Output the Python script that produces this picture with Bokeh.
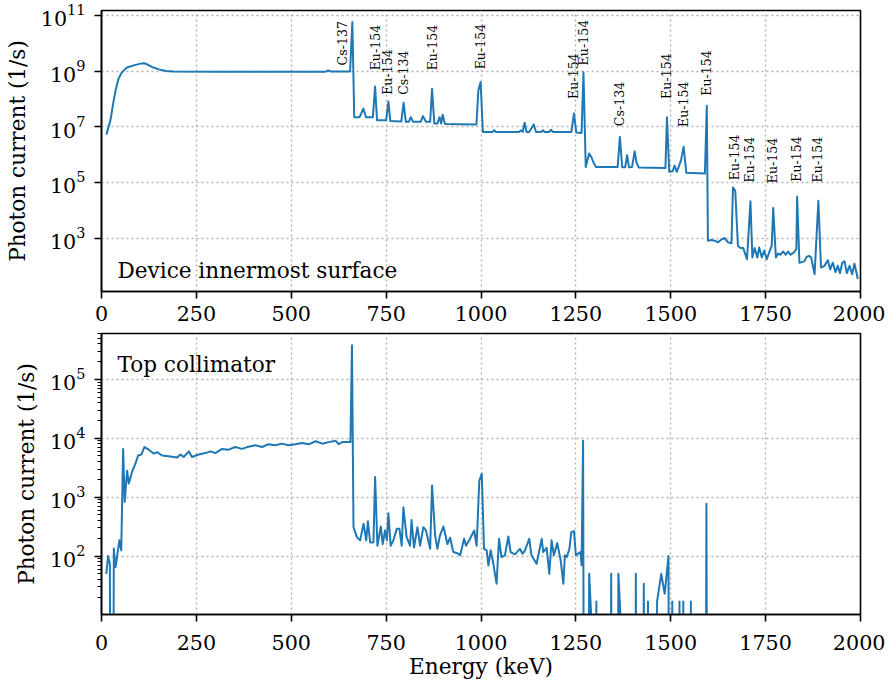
import numpy as np
from bokeh.plotting import figure
from bokeh.layouts import column
from bokeh.models import FixedTicker, Range1d, Label, LogTickFormatter
from bokeh.embed import file_html
from bokeh.resources import INLINE
from bokeh.core.properties import value

FONT = "DejaVu Serif"
BLUE = "#1f77b4"
TICK_FS = "20.7px"
LABEL_FS = "21.6px"

# ---------------- data ----------------
x_ticks = [0, 250, 500, 750, 1000, 1250, 1500, 1750, 2000]
top_y_ticks = [1e3, 1e5, 1e7, 1e9, 1e11]
bot_y_ticks = [1e2, 1e3, 1e4, 1e5]
bot_y_minor = [m * 10 ** k for k in range(1, 6) for m in range(2, 10)]

# Device innermost surface
top_energy = [13, 24, 30, 37, 45, 54, 67, 85, 103, 112,
              120, 133, 151, 170, 190, 300, 450, 590, 598, 605,
              655, 661, 666, 680, 690, 697, 715, 721, 726, 750,
              756, 761, 790, 796, 802, 810, 815, 821, 841, 847,
              855, 866, 871, 877, 885, 891, 895, 899, 905, 988,
              993, 999, 1005, 1030, 1035, 1040, 1100, 1106, 1110, 1115,
              1120, 1127, 1139, 1145, 1158, 1163, 1168, 1180, 1184, 1190,
              1238, 1245, 1251, 1265, 1270, 1276, 1285, 1291, 1297, 1303,
              1360, 1366, 1372, 1380, 1385, 1390, 1398, 1405, 1410, 1416,
              1486, 1490, 1496, 1505, 1510, 1516, 1527, 1534, 1541, 1590,
              1595, 1598, 1607, 1616, 1625, 1634, 1642, 1651, 1660, 1664,
              1670, 1677, 1684, 1691, 1695, 1701, 1710, 1715, 1721, 1728,
              1733, 1740, 1746, 1753, 1761, 1766, 1770, 1777, 1783, 1789,
              1796, 1803, 1809, 1815, 1824, 1831, 1833, 1839, 1852, 1858,
              1864, 1870, 1879, 1889, 1896, 1905, 1914, 1920, 1927, 1934,
              1940, 1946, 1952, 1958, 1964, 1971, 1978, 1984, 1993]
top_current = [5.2e6, 1.8e7, 6e7, 2e8, 5.4e8, 9e8, 1.35e9, 1.6e9, 1.85e9, 1.9e9,
               1.75e9, 1.4e9, 1.15e9, 1.0e9, 9.6e8, 9.5e8, 9.5e8, 9.5e8, 1.05e9, 9.6e8,
               9.6e8, 5.8e10, 2.2e7, 2.2e7, 4.5e7, 2.2e7, 2.2e7, 2.8e8, 1.7e7, 1.7e7,
               8e7, 1.6e7, 1.55e7, 7.2e7, 1.5e7, 1.5e7, 2.2e7, 1.5e7, 1.5e7, 2.4e7,
               1.5e7, 1.5e7, 2.3e8, 1.3e7, 1.3e7, 2.2e7, 1.3e7, 2.7e7, 1.25e7, 1.2e7,
               2e8, 4e8, 6.5e6, 6.5e6, 7.4e6, 6.5e6, 6.5e6, 7.4e6, 6.5e6, 1.4e7,
               6.5e6, 6.5e6, 1.2e7, 6.5e6, 6.5e6, 7.4e6, 6.5e6, 6.5e6, 7.8e6, 6.5e6,
               6.5e6, 3e7, 6.2e6, 6e6, 9e8, 3.6e5, 1.1e6, 8e5, 5e5, 3.6e5,
               3.6e5, 4.3e6, 3.5e5, 3.5e5, 9.5e5, 3.5e5, 3.6e5, 1.3e6, 5e5, 3.4e5,
               3.3e5, 2.2e7, 2.4e5, 2.5e5, 4e5, 2.4e5, 6.2e5, 1.9e6, 2.2e5, 2.1e5,
               5.7e7, 8e2, 8.5e2, 8e2, 7e2, 9e2, 1e3, 7e2, 6.5e2, 6.6e4,
               5e4, 5.2e2, 4.4e2, 4.4e2, 3e2, 1.75e2, 2.1e4, 2e2, 4.4e2, 2e2,
               4.6e2, 2e2, 3.5e2, 1.75e2, 3.5e2, 5.2e2, 1.2e4, 2e2, 2.8e2, 2.5e2,
               3.3e2, 2.5e2, 3.3e2, 2.5e2, 3e2, 4e2, 3.1e4, 1.3e2, 1.45e2, 2.1e2,
               2.3e2, 2e2, 5e1, 2.2e4, 8.7e1, 1e2, 1.6e2, 7.5e1, 1.3e2, 6e1,
               1e2, 5.5e1, 1.3e2, 1.45e2, 5.5e1, 1e2, 5e1, 1.2e2, 3.4e1]

# peak annotations (upper panel)
peak_names = ["Cs-137", "Eu-154", "Eu-154", "Cs-134", "Eu-154", "Eu-154", "Eu-154",
              "Eu-154", "Cs-134", "Eu-154", "Eu-154", "Eu-154", "Eu-154", "Eu-154",
              "Eu-154", "Eu-154", "Eu-154"]
peak_energy = [636, 721, 754, 796, 871, 999, 1243, 1269, 1365, 1488, 1534, 1594,
               1667, 1708, 1767, 1832, 1888]
peak_label_y = [1.6e9, 1.06e9, 1.4e8, 1.4e8, 1.06e9, 1.15e9, 1.0e8, 1.6e9, 1.05e7,
                1.0e8, 9.8e6, 1.3e8, 1.2e5, 1.0e5, 9.3e4, 1.05e5, 1.0e5]

# Top collimator (0 = no counts)
bot_energy = [12.5, 17.5, 22, 27.5, 32.5, 37, 41, 47, 52, 57,
              61, 67.5, 72, 80.5, 89.5, 96.5, 105, 113, 124.5, 137.5,
              146.5, 159.5, 181.5, 199, 208, 216.5, 230, 238.5, 256, 274,
              287, 300, 317.5, 335, 352.5, 370, 387.5, 405, 423, 440,
              458, 475.5, 493, 511, 528.5, 546, 564, 581.5, 599, 616.5,
              625.5, 634, 656, 660, 664, 673, 681.5, 690.5, 697.5, 702,
              708, 716.5, 721, 727, 736, 741, 747, 752, 756, 762,
              769, 778, 785, 791, 795.5, 804, 813, 817, 823.5, 832.5,
              839.5, 848, 855, 866, 871, 879, 885, 892, 901, 911.5,
              918.5, 927, 938, 945, 955.5, 960.5, 971, 982, 988.5, 995.5,
              1002, 1008, 1015, 1019.5, 1025.5, 1032.5, 1041, 1047.5, 1054, 1063,
              1072, 1078, 1089.5, 1102.5, 1109.5, 1116, 1127, 1133, 1146.5, 1160,
              1164, 1173, 1180, 1186, 1192, 1201, 1210, 1217, 1221, 1226,
              1233, 1238, 1245, 1250, 1256, 1262, 1265, 1269, 1274, 1280,
              1285, 1290, 1298, 1304, 1309, 1338, 1343, 1348, 1357, 1362,
              1367, 1403, 1408, 1413, 1424, 1429, 1434, 1436, 1440, 1445,
              1459, 1464, 1475, 1484, 1494, 1499, 1504, 1509, 1518, 1523,
              1528, 1533, 1538, 1548, 1553, 1558, 1589, 1594, 1599, 2000]
bot_current = [50, 100, 74, 0, 134, 65, 96, 185, 125, 6600,
               830, 2800, 1700, 2700, 3700, 5100, 5300, 7100, 6400, 5500,
               5800, 5100, 4900, 4700, 5300, 4800, 6000, 4800, 5300, 5600,
               6000, 5600, 6600, 6400, 7100, 6600, 7200, 7600, 7100, 7900,
               7600, 8100, 7600, 7900, 8300, 7900, 8900, 8100, 8600, 9100,
               7900, 8600, 8600, 380000, 310, 210, 185, 355, 185, 390,
               170, 170, 2200, 150, 318, 160, 272, 185, 535, 150,
               185, 290, 290, 150, 675, 210, 150, 410, 140, 310,
               150, 310, 272, 133, 1580, 225, 133, 225, 318, 160,
               205, 117, 112, 103, 197, 150, 197, 272, 150, 1900,
               2500, 133, 125, 69, 125, 74, 34, 197, 96, 103,
               215, 117, 107, 133, 110, 125, 197, 103, 74, 197,
               117, 138, 50, 185, 103, 166, 84, 34, 103, 96,
               133, 255, 265, 103, 110, 117, 70, 9100, 0, 0,
               50, 11, 0, 17, 0, 0, 50, 0, 0, 50,
               11, 0, 50, 0, 0, 34, 0, 0, 17, 0,
               0, 17, 50, 23, 100, 0, 17, 0, 0, 17,
               0, 17, 0, 0, 17, 0, 0, 770, 0, 0]

assert len(top_energy) == len(top_current)
assert len(bot_energy) == len(bot_current)
assert len(peak_names) == len(peak_energy) == len(peak_label_y)


def style(p, y_ticks, y_minor, x_standoff):
    p.background_fill_color = "white"
    p.border_fill_color = "white"
    p.outline_line_color = "black"
    p.outline_line_width = 1.6
    p.outline_line_alpha = 1.0
    for ax in (p.xaxis[0], p.yaxis[0]):
        ax.axis_line_width = 1.6
        ax.axis_line_color = "black"
        ax.major_tick_line_width = 1.6
        ax.minor_tick_line_width = 1.2
        ax.major_tick_out = 7
        ax.major_tick_in = 0
        ax.minor_tick_out = 4
        ax.minor_tick_in = 0
        ax.major_label_text_font = FONT
        ax.major_label_text_font_size = TICK_FS
        ax.major_label_text_color = "black"
        ax.axis_label_text_font = FONT
        ax.axis_label_text_font_size = LABEL_FS
        ax.axis_label_text_font_style = "normal"
        ax.axis_label_text_color = "black"
    p.xaxis.ticker = FixedTicker(ticks=x_ticks, minor_ticks=[])
    p.yaxis.ticker = FixedTicker(ticks=y_ticks, minor_ticks=y_minor)
    p.yaxis.formatter = LogTickFormatter()
    p.xaxis.major_label_standoff = x_standoff
    p.yaxis.major_label_standoff = 9
    p.yaxis.axis_label = "Photon current (1/s)"
    p.yaxis.axis_label_standoff = 8
    p.grid.grid_line_color = "#b0b0b0"
    p.grid.grid_line_dash = "2 3"
    p.grid.grid_line_width = 1.4


p1 = figure(width=885, height=332, x_range=Range1d(0, 2000), y_range=Range1d(12, 1.5e11),
            y_axis_type="log", output_backend="svg", toolbar_location=None,
            min_border_left=101, min_border_right=25, min_border_top=10, min_border_bottom=41)
style(p1, top_y_ticks, [], 7)
p1.line(top_energy, top_current, line_color=BLUE, line_width=2.0, line_join="round")
p1.text(x=peak_energy, y=peak_label_y, text=peak_names, angle=np.pi / 2,
        text_align="left", text_baseline="middle", text_font=value(FONT),
        text_font_size="12.6px", text_color="black")
p1.add_layout(Label(x=42, y=66, text="Device innermost surface", text_font=FONT,
                    text_font_size=LABEL_FS, text_color="black", text_baseline="alphabetic"))

floor = 1e-9  # zero counts drawn below the axis floor, as a log plot clips them
p2 = figure(width=885, height=353, x_range=Range1d(0, 2000), y_range=Range1d(10.2, 6e5),
            y_axis_type="log", output_backend="svg", toolbar_location=None,
            min_border_left=101, min_border_right=25, min_border_top=1, min_border_bottom=71)
style(p2, bot_y_ticks, bot_y_minor, 13)
p2.line(bot_energy, np.clip(np.array(bot_current, dtype=float), floor, None),
        line_color=BLUE, line_width=2.0, line_join="round")
p2.add_layout(Label(x=42, y=1.78e5, text="Top collimator", text_font=FONT,
                    text_font_size=LABEL_FS, text_color="black", text_baseline="alphabetic"))
p2.xaxis.axis_label = "Energy (keV)"
p2.xaxis.axis_label_standoff = 1

layout = column(p1, p2)
open("out.html", "w").write(file_html(layout, INLINE))
